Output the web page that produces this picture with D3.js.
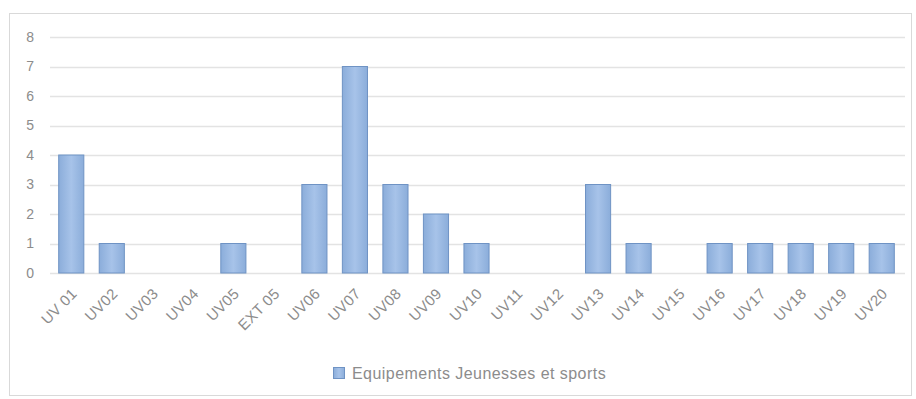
<!DOCTYPE html>
<html><head><meta charset="utf-8">
<script src="https://cdn.jsdelivr.net/npm/d3@7"></script>
<style>body{margin:0;background:#fff;}svg{display:block;}</style>
</head><body>
<script>
const categories = ["UV 01","UV02","UV03","UV04","UV05","EXT 05","UV06","UV07","UV08","UV09","UV10","UV11","UV12","UV13","UV14","UV15","UV16","UV17","UV18","UV19","UV20"];
const values = [4,1,0,0,1,0,3,7,3,2,1,0,0,3,1,0,1,1,1,1,1];
const yTicks = [0,1,2,3,4,5,6,7,8];
const seriesName = "Equipements Jeunesses et sports";

const W = 916, H = 399;
const FONT = "'Liberation Sans', Arial, sans-serif";
const svg = d3.select("body").append("svg").attr("width", W).attr("height", H);
const defs = svg.append("defs");
const g = defs.append("linearGradient").attr("id","bg").attr("x1","0").attr("x2","1").attr("y1","0").attr("y2","0");
g.append("stop").attr("offset","0%").attr("stop-color","#8badda");
g.append("stop").attr("offset","50%").attr("stop-color","#a7c3e9");
g.append("stop").attr("offset","100%").attr("stop-color","#8badda");

svg.append("rect").attr("x",9.5).attr("y",13.5).attr("width",902).attr("height",382)
  .attr("fill","#fff").attr("stroke","#d9d9d9");

const x = d3.scaleBand().domain(categories).range([51, 902]).paddingInner(0.38).paddingOuter(0.19);
const y = d3.scaleLinear().domain([0,8]).range([273, 37]);

// gridlines
svg.append("g").selectAll("line").data(yTicks).join("line")
  .attr("x1", 50).attr("x2", 905)
  .attr("y1", d => Math.round(y(d))+0.5).attr("y2", d => Math.round(y(d))+0.5)
  .attr("stroke", "#e3e3e3").attr("stroke-width", 1.5);

// y axis labels
const yAxis = d3.axisLeft(y).tickValues(yTicks).tickSize(0).tickPadding(0);
const ya = svg.append("g").attr("transform","translate(34,0)").call(yAxis);
ya.select(".domain").remove();
ya.selectAll("text").attr("fill","#8c8c8c").style("font-family",FONT).style("font-size","14px");

// bars
svg.append("g").selectAll("rect").data(values).join("rect")
  .attr("x", (d,i) => x(categories[i]))
  .attr("width", x.bandwidth())
  .attr("y", d => y(d))
  .attr("height", d => y(0) - y(d))
  .attr("fill", "url(#bg)").attr("stroke", "#6f93c4").attr("stroke-width", 1)
  .style("display", d => d > 0 ? null : "none");

// x axis
const xAxis = d3.axisBottom(x).tickSize(0).tickPadding(0);
const xa = svg.append("g").attr("transform","translate(0,0)").call(xAxis);
xa.select(".domain").remove();
xa.selectAll(".tick").attr("transform", d => `translate(${x(d) + x.bandwidth()/2},0)`);
xa.selectAll("text")
  .attr("fill","#8c8c8c").style("font-family",FONT).style("font-size","15px")
  .style("letter-spacing","0.3px")
  .attr("text-anchor","end").attr("dy","0.35em").attr("y",0)
  .attr("transform","translate(3,291) rotate(-45)");

// legend
const lg = svg.append("g").attr("transform","translate(333,367)");
lg.append("rect").attr("x",0.5).attr("y",0.5).attr("width",11).attr("height",11).attr("fill","url(#bg)").attr("stroke","#6f93c4");
lg.append("text").attr("x",19).attr("y",6).attr("dy","0.35em").text(seriesName)
  .attr("fill","#8c8c8c").style("font-family",FONT).style("font-size","16px").style("letter-spacing","0.45px");
</script>
</body></html>
